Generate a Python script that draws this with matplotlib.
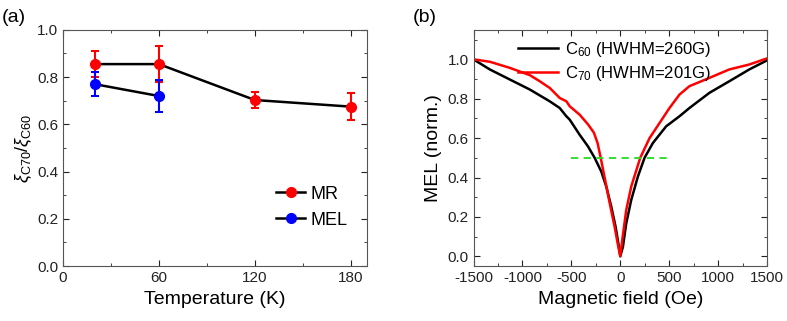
import matplotlib.pyplot as plt
from matplotlib.ticker import MultipleLocator

plt.rcParams['font.family'] = ['Liberation Sans', 'DejaVu Sans']
plt.rcParams['mathtext.fontset'] = 'custom'
plt.rcParams['mathtext.rm'] = 'Liberation Sans'
plt.rcParams['mathtext.it'] = 'Liberation Sans:italic'
plt.rcParams['axes.unicode_minus'] = False

# (a) ratio vs temperature
temp_mr = [20, 60, 120, 180]
ratio_mr = [0.855, 0.855, 0.703, 0.675]
err_mr = [0.055, 0.075, 0.035, 0.058]
temp_mel = [20, 60]
ratio_mel = [0.770, 0.720]
err_mel = [0.050, 0.068]

# (b) normalised MEL curves
field_c60 = [-1500, -1334, -1130, -925, -721, -619, -551, -517, -415, -330,
             -262, -194, -143, -92, -48, -14, 0, 27, 61, 112, 180, 248, 333,
             469, 605, 707, 911, 1115, 1319, 1500]
mel_c60 = [1.0, 0.949, 0.898, 0.847, 0.787, 0.753, 0.711, 0.694, 0.617, 0.558,
           0.5, 0.43, 0.354, 0.252, 0.15, 0.048, 0.0, 0.048, 0.167, 0.286, 0.405,
           0.5, 0.575, 0.66, 0.711, 0.753, 0.83, 0.889, 0.949, 0.995]
field_c70 = [-1500, -1334, -1130, -925, -823, -721, -619, -551, -517, -415,
             -330, -270, -232, -200, -160, -109, -58, -20, 0, 20, 61, 112, 204,
             299, 435, 503, 605, 707, 911, 1115, 1319, 1500]
mel_c70 = [1.0, 0.988, 0.957, 0.92, 0.889, 0.855, 0.804, 0.787, 0.762, 0.719,
           0.67, 0.628, 0.575, 0.5, 0.4, 0.272, 0.15, 0.048, 0.0, 0.082, 0.235,
           0.354, 0.5, 0.6, 0.702, 0.753, 0.821, 0.864, 0.906, 0.949, 0.974, 1.005]
half_x = [-500, 500]
half_y = [0.5, 0.5]

fig = plt.figure(figsize=(7.87, 3.21), dpi=100)
ax1 = fig.add_axes([0.080, 0.171, 0.386, 0.736])
ax2 = fig.add_axes([0.6017, 0.171, 0.3729, 0.736])

for ax in (ax1, ax2):
    ax.tick_params(which='both', direction='in', top=True, right=True,
                   labelsize=11, colors='#222222')
    ax.tick_params(which='major', length=4)
    ax.tick_params(which='minor', length=2.5)
    for s in ax.spines.values():
        s.set_color('#555555')

# panel a
ax1.plot(temp_mr, ratio_mr, color='black', lw=1.8, zorder=2)
ax1.plot(temp_mel, ratio_mel, color='black', lw=1.8, zorder=2)
ax1.errorbar(temp_mr, ratio_mr, yerr=err_mr, fmt='o', color='red', ms=7,
             capsize=3, elinewidth=1.5, capthick=1.5, zorder=3)
ax1.errorbar(temp_mel, ratio_mel, yerr=err_mel, fmt='o', color='blue', ms=7,
             capsize=3, elinewidth=1.5, capthick=1.5, zorder=3)
ax1.set_xlim(0, 190)
ax1.set_ylim(0, 1.0)
ax1.xaxis.set_major_locator(MultipleLocator(60))
ax1.xaxis.set_minor_locator(MultipleLocator(30))
ax1.yaxis.set_major_locator(MultipleLocator(0.2))
ax1.yaxis.set_minor_locator(MultipleLocator(0.1))
ax1.set_xlabel('Temperature (K)', fontsize=14)
ax1.set_ylabel(r'$\xi_{\rm C70}/\xi_{\rm C60}$', fontsize=13, labelpad=2)
ax1.plot([], [], '-o', color='black', mfc='red', mec='red', ms=7, lw=1.8, label='MR')
ax1.plot([], [], '-o', color='black', mfc='blue', mec='blue', ms=7, lw=1.8, label='MEL')
h, l = ax1.get_legend_handles_labels()
ax1.legend(h[-2:], l[-2:], loc='lower right', bbox_to_anchor=(0.99, 0.09),
           frameon=False, fontsize=13, handlelength=1.6, handletextpad=0.3,
           labelspacing=0.5)
fig.text(0.002, 0.93, '(a)', fontsize=14)

# panel b
ax2.plot(field_c60, mel_c60, color='black', lw=1.8, label=r'C$_{60}$ (HWHM=260G)')
ax2.plot(field_c70, mel_c70, color='red', lw=1.8, label=r'C$_{70}$ (HWHM=201G)')
ax2.plot(half_x, half_y, color='#22dd22', lw=1.3, ls=(0, (4, 3)))
ax2.set_xlim(-1500, 1500)
ax2.set_ylim(-0.05, 1.15)
ax2.xaxis.set_major_locator(MultipleLocator(500))
ax2.xaxis.set_minor_locator(MultipleLocator(250))
ax2.yaxis.set_major_locator(MultipleLocator(0.2))
ax2.yaxis.set_minor_locator(MultipleLocator(0.1))
ax2.yaxis.set_major_formatter(lambda v, p: f'{v:.1f}')
ax2.set_xlabel('Magnetic field (Oe)', fontsize=14)
ax2.set_ylabel('MEL (norm.)', fontsize=14)
ax2.legend(loc='upper center', bbox_to_anchor=(0.48, 1.02), frameon=False,
           fontsize=12, handlelength=2.4, handletextpad=0.4, labelspacing=0.3)
fig.text(0.524, 0.93, '(b)', fontsize=14)

fig.savefig('out.png', dpi=100)
